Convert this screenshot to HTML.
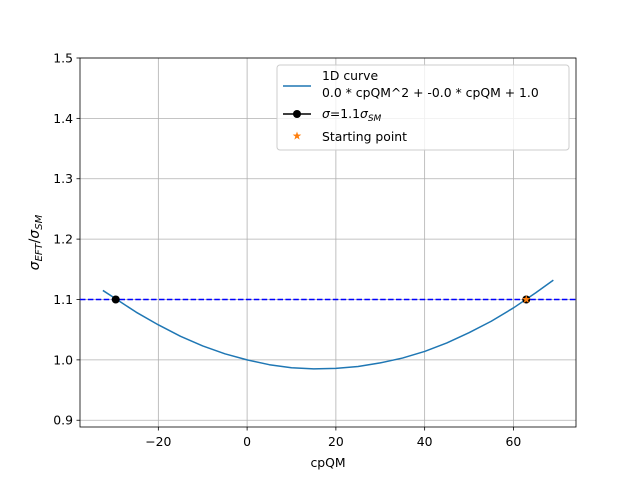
<!DOCTYPE html>
<html><head><meta charset="utf-8"><style>
body{margin:0;background:#fff;font-family:"Liberation Sans","DejaVu Sans",sans-serif;}
svg text{font-family:"DejaVu Sans","Liberation Sans",sans-serif;}
</style></head><body>
<svg id="chart" width="640" height="480" viewBox="0 0 640 480" xmlns="http://www.w3.org/2000/svg">
<rect width="640" height="480" fill="#fff"/>
<g id="grid"></g>
<g id="axes"></g>
<g id="marks"></g>
<g id="legend"></g>
</svg>
<script>
const curveX=[-32.5,-30,-25,-20,-15,-10,-5,0,5,10,15,20,25,30,35,40,45,50,55,60,65,69];
const curveY=[1.115,1.103,1.079,1.058,1.039,1.023,1.010,1.000,0.992,0.987,0.985,0.986,0.989,0.995,1.003,1.014,1.028,1.045,1.064,1.086,1.111,1.132];
const thresholdY=[1.1];
const crossX=[-29.6,62.9];
const crossY=[1.1,1.1];
const startX=[62.9];
const startY=[1.1];
const xTicks=[-20,0,20,40,60];
const yTicks=[0.9,1.0,1.1,1.2,1.3,1.4,1.5];
const yTickLabels=["0.9","1.0","1.1","1.2","1.3","1.4","1.5"];

const L=80,R=576,T=58,B=427;
const xMin=-37.65,xMax=74.1,yMin=0.8888,yMax=1.5;
const sx=v=>L+(v-xMin)/(xMax-xMin)*(R-L);
const sy=v=>B-(v-yMin)/(yMax-yMin)*(B-T);
const NS="http://www.w3.org/2000/svg";
const FS=13.9;
function mk(tag,attrs,parent,txt){const e=document.createElementNS(NS,tag);for(const k in attrs)e.setAttribute(k,attrs[k]);if(txt!==undefined)e.textContent=txt;parent.appendChild(e);return e;}
const grid=document.getElementById('grid'),axes=document.getElementById('axes'),marks=document.getElementById('marks'),legend=document.getElementById('legend');

xTicks.forEach(t=>{const x=sx(t);
 let g=mk('line',{x1:x,x2:x,y1:T,y2:B,stroke:'#b0b0b0','stroke-width':0.8},grid);
 
 mk('line',{x1:x,x2:x,y1:B,y2:B+3.5,stroke:'#000','stroke-width':0.8},axes);
 let l=mk('text',{x:x,y:B+19,'font-size':FS-1.5,'text-anchor':'middle'},axes,t<0?'\u2212'+Math.abs(t):String(t));
 
});
yTicks.forEach((t,i)=>{const y=sy(t);
 let g=mk('line',{x1:L,x2:R,y1:y,y2:y,stroke:'#b0b0b0','stroke-width':0.8},grid);
 
 mk('line',{x1:L-3.5,x2:L,y1:y,y2:y,stroke:'#000','stroke-width':0.8},axes);
 let l=mk('text',{x:L-7,y:y+4.5,'font-size':FS-1.5,'text-anchor':'end'},axes,yTickLabels[i]);
 
});
let frame=mk('rect',{x:L,y:T,width:R-L,height:B-T,fill:'none',stroke:'#000','stroke-width':0.8},axes);

let xt=mk('text',{x:(L+R)/2,y:467,'font-size':FS-1.5,'text-anchor':'middle'},axes,'cpQM');

let yt=mk('text',{x:0,y:0,'font-size':FS,'text-anchor':'middle',transform:`translate(39,${(T+B)/2}) rotate(-90)`},axes);

yt.innerHTML='<tspan font-style="italic">σ</tspan><tspan font-size="10" dy="3" font-style="italic">EFT</tspan><tspan dy="-3">/</tspan><tspan font-style="italic">σ</tspan><tspan font-size="10" dy="3" font-style="italic">SM</tspan>';

let hl=mk('line',{x1:L,x2:R,y1:sy(thresholdY[0]),y2:sy(thresholdY[0]),stroke:'#0000ff','stroke-width':1.5,'stroke-dasharray':'5.5,2.4'},marks);

let d=curveX.map((x,i)=>(i?'L':'M')+sx(x).toFixed(2)+','+sy(curveY[i]).toFixed(2)).join(' ');
let cp=mk('path',{d:d,fill:'none',stroke:'#1f77b4','stroke-width':1.5,'stroke-linejoin':'round'},marks);

crossX.forEach((x,i)=>{let c=mk('circle',{cx:sx(x),cy:sy(crossY[i]),r:4,fill:'#000'},marks);
 });
function star(cx,cy,r,parent){let p=[];for(let k=0;k<10;k++){const a=-Math.PI/2+k*Math.PI/5;const rr=k%2?r*0.4:r;p.push((cx+rr*Math.cos(a)).toFixed(2)+','+(cy+rr*Math.sin(a)).toFixed(2));}return mk('polygon',{points:p.join(' '),fill:'#ff7f0e'},parent);}
startX.forEach((x,i)=>{let s=star(sx(x),sy(startY[i]),4.5,marks);
 });

let lb=mk('rect',{x:277,y:65,width:292,height:85,rx:3,fill:'#fff','fill-opacity':0.8,stroke:'#ccc','stroke-width':1},legend);

mk('line',{x1:283,x2:311,y1:86,y2:86,stroke:'#1f77b4','stroke-width':1.5},legend);
let t1=mk('text',{x:322,y:80,'font-size':FS-1.5},legend,'1D curve');
let t1b=mk('text',{x:322,y:97,'font-size':FS-1.5},legend,'0.0 * cpQM^2 + -0.0 * cpQM + 1.0');
mk('line',{x1:283,x2:311,y1:114,y2:114,stroke:'#000','stroke-width':1.5},legend);
mk('circle',{cx:297,cy:114,r:4,fill:'#000'},legend);
let t2=mk('text',{x:322,y:118,'font-size':FS-1.5},legend);
t2.innerHTML='<tspan font-style="italic">σ</tspan>=1.1<tspan font-style="italic">σ</tspan><tspan font-size="9" dy="3" font-style="italic">SM</tspan>';
star(297,136,4.5,legend);
let t3=mk('text',{x:322,y:141,'font-size':FS-1.5},legend,'Starting point');
</script>
</body></html>
